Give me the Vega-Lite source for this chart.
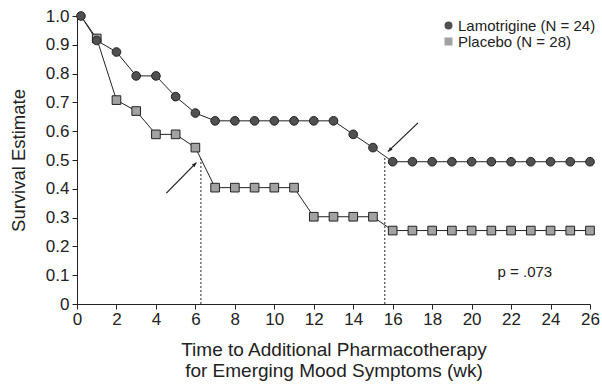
{
  "$schema": "https://vega.github.io/schema/vega-lite/v6.json",
  "width": 513,
  "height": 288,
  "autosize": {"type": "none"},
  "padding": {"left": 77, "top": 16, "right": 12, "bottom": 81},
  "background": "white",
  "config": {
    "view": {"stroke": null},
    "font": "Liberation Sans",
    "axis": {"grid": false, "domainColor": "#222", "tickColor": "#222", "labelColor": "#222", "titleColor": "#222", "labelFont": "Liberation Sans", "titleFont": "Liberation Sans", "titleFontWeight": "normal", "labelOverlap": false}
  },
  "datasets": {
    "km": [
      {"week": 0.2, "surv": 1.0, "group": "Placebo (N = 28)"},
      {"week": 1, "surv": 0.922, "group": "Placebo (N = 28)"},
      {"week": 2, "surv": 0.708, "group": "Placebo (N = 28)"},
      {"week": 3, "surv": 0.670, "group": "Placebo (N = 28)"},
      {"week": 4, "surv": 0.589, "group": "Placebo (N = 28)"},
      {"week": 5, "surv": 0.589, "group": "Placebo (N = 28)"},
      {"week": 6, "surv": 0.543, "group": "Placebo (N = 28)"},
      {"week": 7, "surv": 0.404, "group": "Placebo (N = 28)"},
      {"week": 8, "surv": 0.404, "group": "Placebo (N = 28)"},
      {"week": 9, "surv": 0.404, "group": "Placebo (N = 28)"},
      {"week": 10, "surv": 0.404, "group": "Placebo (N = 28)"},
      {"week": 11, "surv": 0.404, "group": "Placebo (N = 28)"},
      {"week": 12, "surv": 0.303, "group": "Placebo (N = 28)"},
      {"week": 13, "surv": 0.303, "group": "Placebo (N = 28)"},
      {"week": 14, "surv": 0.303, "group": "Placebo (N = 28)"},
      {"week": 15, "surv": 0.303, "group": "Placebo (N = 28)"},
      {"week": 16, "surv": 0.255, "group": "Placebo (N = 28)"},
      {"week": 17, "surv": 0.255, "group": "Placebo (N = 28)"},
      {"week": 18, "surv": 0.255, "group": "Placebo (N = 28)"},
      {"week": 19, "surv": 0.255, "group": "Placebo (N = 28)"},
      {"week": 20, "surv": 0.255, "group": "Placebo (N = 28)"},
      {"week": 21, "surv": 0.255, "group": "Placebo (N = 28)"},
      {"week": 22, "surv": 0.255, "group": "Placebo (N = 28)"},
      {"week": 23, "surv": 0.255, "group": "Placebo (N = 28)"},
      {"week": 24, "surv": 0.255, "group": "Placebo (N = 28)"},
      {"week": 25, "surv": 0.255, "group": "Placebo (N = 28)"},
      {"week": 26, "surv": 0.255, "group": "Placebo (N = 28)"},
      {"week": 0.2, "surv": 1.0, "group": "Lamotrigine (N = 24)"},
      {"week": 1, "surv": 0.915, "group": "Lamotrigine (N = 24)"},
      {"week": 2, "surv": 0.875, "group": "Lamotrigine (N = 24)"},
      {"week": 3, "surv": 0.792, "group": "Lamotrigine (N = 24)"},
      {"week": 4, "surv": 0.792, "group": "Lamotrigine (N = 24)"},
      {"week": 5, "surv": 0.720, "group": "Lamotrigine (N = 24)"},
      {"week": 6, "surv": 0.663, "group": "Lamotrigine (N = 24)"},
      {"week": 7, "surv": 0.636, "group": "Lamotrigine (N = 24)"},
      {"week": 8, "surv": 0.636, "group": "Lamotrigine (N = 24)"},
      {"week": 9, "surv": 0.636, "group": "Lamotrigine (N = 24)"},
      {"week": 10, "surv": 0.636, "group": "Lamotrigine (N = 24)"},
      {"week": 11, "surv": 0.636, "group": "Lamotrigine (N = 24)"},
      {"week": 12, "surv": 0.636, "group": "Lamotrigine (N = 24)"},
      {"week": 13, "surv": 0.636, "group": "Lamotrigine (N = 24)"},
      {"week": 14, "surv": 0.589, "group": "Lamotrigine (N = 24)"},
      {"week": 15, "surv": 0.543, "group": "Lamotrigine (N = 24)"},
      {"week": 16, "surv": 0.494, "group": "Lamotrigine (N = 24)"},
      {"week": 17, "surv": 0.494, "group": "Lamotrigine (N = 24)"},
      {"week": 18, "surv": 0.494, "group": "Lamotrigine (N = 24)"},
      {"week": 19, "surv": 0.494, "group": "Lamotrigine (N = 24)"},
      {"week": 20, "surv": 0.494, "group": "Lamotrigine (N = 24)"},
      {"week": 21, "surv": 0.494, "group": "Lamotrigine (N = 24)"},
      {"week": 22, "surv": 0.494, "group": "Lamotrigine (N = 24)"},
      {"week": 23, "surv": 0.494, "group": "Lamotrigine (N = 24)"},
      {"week": 24, "surv": 0.494, "group": "Lamotrigine (N = 24)"},
      {"week": 25, "surv": 0.494, "group": "Lamotrigine (N = 24)"},
      {"week": 26, "surv": 0.494, "group": "Lamotrigine (N = 24)"}
    ],
    "medians": [
      {"week": 6.28, "surv": 0, "surv2": 0.504},
      {"week": 15.6, "surv": 0, "surv2": 0.514}
    ],
    "arrows": [
      {"arrow": "a", "week0": 4.53, "surv0": 0.385, "week": 6.05, "surv": 0.491},
      {"arrow": "b", "week0": 17.28, "surv0": 0.629, "week": 15.76, "surv": 0.529}
    ],
    "notes": [
      {"week": 22.7, "surv": 0.11, "label": "p = .073"}
    ]
  },
  "encoding": {
    "x": {"field": "week", "type": "quantitative", "scale": {"domain": [0, 26], "nice": false, "zero": false},
      "axis": {"values": [0,2,4,6,8,10,12,14,16,18,20,22,24,26], "tickCount": 14, "title": ["Time to Additional Pharmacotherapy", "for Emerging Mood Symptoms (wk)"], "labelFontSize": 17, "titleFontSize": 19, "tickSize": 5, "labelPadding": 2, "titlePadding": 13, "titleLineHeight": 21, "labelFlush": false, "labelOverlap": false}},
    "y": {"field": "surv", "type": "quantitative", "scale": {"domain": [0, 1], "nice": false},
      "axis": {"values": [0,0.1,0.2,0.3,0.4,0.5,0.6,0.7,0.8,0.9,1.0], "tickCount": 11, "labelExpr": "datum.value == 0 ? '0' : format(datum.value, '.1f')", "title": "Survival Estimate", "labelFontSize": 17, "titleFontSize": 18.5, "tickSize": 5, "labelPadding": 3, "titlePadding": 17, "labelFlush": false, "labelOverlap": false}}
  },
  "layer": [
    {
      "data": {"name": "km"},
      "mark": {"type": "line", "color": "#222", "strokeWidth": 1},
      "encoding": {
        "detail": {"field": "group"},
        "order": {"field": "week"}
      }
    },
    {
      "data": {"name": "medians"},
      "mark": {"type": "rule", "color": "#222", "strokeWidth": 1, "strokeDash": [2, 2]},
      "encoding": {
        "y2": {"field": "surv2"}
      }
    },
    {
      "data": {"name": "km"},
      "transform": [{"filter": "!(datum.group == 'Placebo (N = 28)' && datum.week < 0.5)"}],
      "mark": {"type": "point", "filled": true, "stroke": "#222", "strokeWidth": 1, "opacity": 1, "size": 75},
      "encoding": {
        "shape": {"field": "group", "type": "nominal", "scale": {"domain": ["Lamotrigine (N = 24)", "Placebo (N = 28)"], "range": ["circle", "square"]},
          "legend": {"title": null, "orient": "none", "legendX": 364, "legendY": 2, "labelFontSize": 15, "labelColor": "#222", "symbolSize": 64, "symbolStrokeColor": "#222", "symbolStrokeWidth": 1, "labelOffset": 2, "rowPadding": 0, "labelFont": "Liberation Sans"}},
        "fill": {"field": "group", "type": "nominal", "scale": {"domain": ["Lamotrigine (N = 24)", "Placebo (N = 28)"], "range": ["#505050", "#a2a2a2"]}}
      }
    },
    {
      "data": {"name": "arrows"},
      "mark": {"type": "rule", "color": "#222", "strokeWidth": 1.3},
      "encoding": {
        "x2": {"field": "week0"},
        "y2": {"field": "surv0"}
      }
    },
    {
      "data": {"name": "arrows"},
      "mark": {"type": "point", "filled": true, "color": "#222", "opacity": 1, "size": 70, "shape": "M0,0L-0.45,1.1L0.45,1.1Z", "angle": {"expr": "datum.arrow == 'a' ? 44 : 226"}},
      "encoding": {}
    },
    {
      "data": {"name": "notes"},
      "mark": {"type": "text", "fontSize": 15, "color": "#222", "font": "Liberation Sans"},
      "encoding": {
        "text": {"field": "label"}
      }
    }
  ]
}
